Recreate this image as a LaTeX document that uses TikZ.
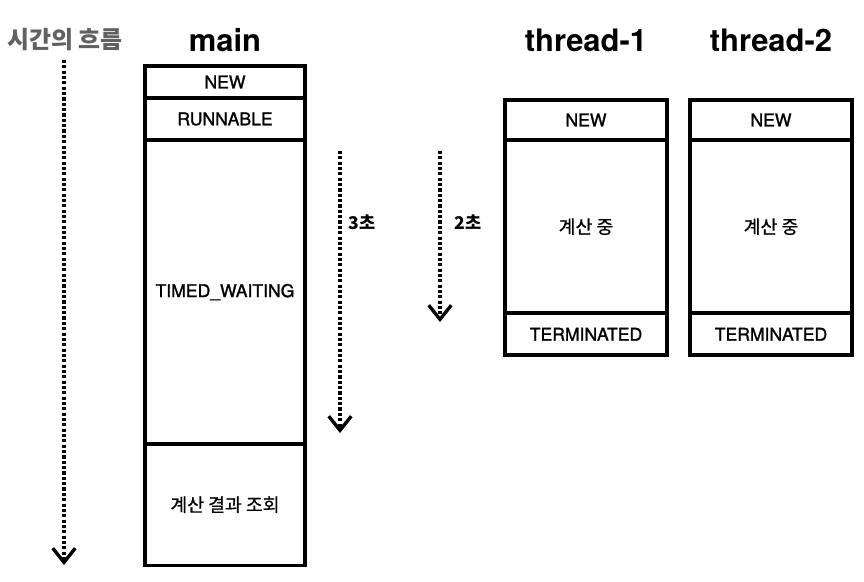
\documentclass[tikz,border=0pt]{standalone}
\usepackage{fontspec}
\setmainfont{TeX Gyre Heros}
\newfontfamily\medium{TeX Gyre Heros}[FakeBold=1.4]
\newfontfamily\kr{Noto Sans CJK KR}
\newfontfamily\krmedium{Noto Sans CJK KR}[FakeBold=0.8]
\usetikzlibrary{arrows.meta,positioning}

\begin{document}
\begin{tikzpicture}
	[x=0.025cm, y=-0.025cm,
	state/.style={draw, line width=2.6pt, rectangle, outer sep=0pt, inner sep=0pt, font=\medium\fontsize{12.5}{14}\selectfont},
	krstate/.style={state, font=\krmedium\fontsize{13}{15}\selectfont},
	title/.style={font=\fontsize{22}{26}\selectfont\bfseries},
	flow/.style={line width=2.2pt, dash pattern=on 2.2pt off 1.6pt, -{Straight Barb[length=10pt,width=16pt,line width=2.4pt]}},
	secs/.style={font=\kr\fontsize{12.5}{14}\selectfont\bfseries}]

	\useasboundingbox (0,0) rectangle (864,581);

	% titles
	\node[font=\kr\fontsize{17}{19}\selectfont\bfseries, text=black!62] (time) at (65,40) {시간의 흐름};
	\node[title] (mainT) at (225,40) {main};
	\node[title] (thrA) at (586,40) {thread-1};
	\node[title] (thrB) at (771,40) {thread-2};

	% main
	\node[state, minimum width=4cm, minimum height=0.8cm, anchor=north] (mNew) at (225,66) {NEW};
	\node[state, minimum width=4cm, minimum height=1.05cm, below=0pt of mNew] (mRun) {RUNNABLE};
	\node[state, minimum width=4cm, minimum height=7.6cm, below=0pt of mRun] (mWait) {TIMED\_WAITING};
	\node[krstate, minimum width=4cm, minimum height=3.03cm, below=0pt of mWait] (mRes) {계산 결과 조회};

	% thread-1
	\node[state, minimum width=4.05cm, minimum height=1cm, anchor=north] (aNew) at (586,100) {NEW};
	\node[krstate, minimum width=4.05cm, minimum height=4.33cm, below=0pt of aNew] (aCalc) {계산 중};
	\node[state, minimum width=4.05cm, minimum height=1.05cm, below=0pt of aCalc] (aEnd) {TERMINATED};

	% thread-2
	\node[state, minimum width=4.05cm, minimum height=1cm, anchor=north] (bNew) at (771,100) {NEW};
	\node[krstate, minimum width=4.05cm, minimum height=4.33cm, below=0pt of bNew] (bCalc) {계산 중};
	\node[state, minimum width=4.05cm, minimum height=1.05cm, below=0pt of bCalc] (bEnd) {TERMINATED};

	% time arrows
	\coordinate (t0) at (64,60);
	\coordinate (t1) at (64,565);
	\coordinate (w0) at (340,151);
	\coordinate (w1) at (340,433);
	\coordinate (c0) at (440,151);
	\coordinate (c1) at (440,322);
	\draw[flow] (t0) -- (t1);
	\draw[flow] (w0) -- (w1);
	\draw[flow] (c0) -- (c1);
	\node[secs] (three) at (362,222) {3초};
	\node[secs] (two) at (468,222) {2초};
\end{tikzpicture}
\end{document}
